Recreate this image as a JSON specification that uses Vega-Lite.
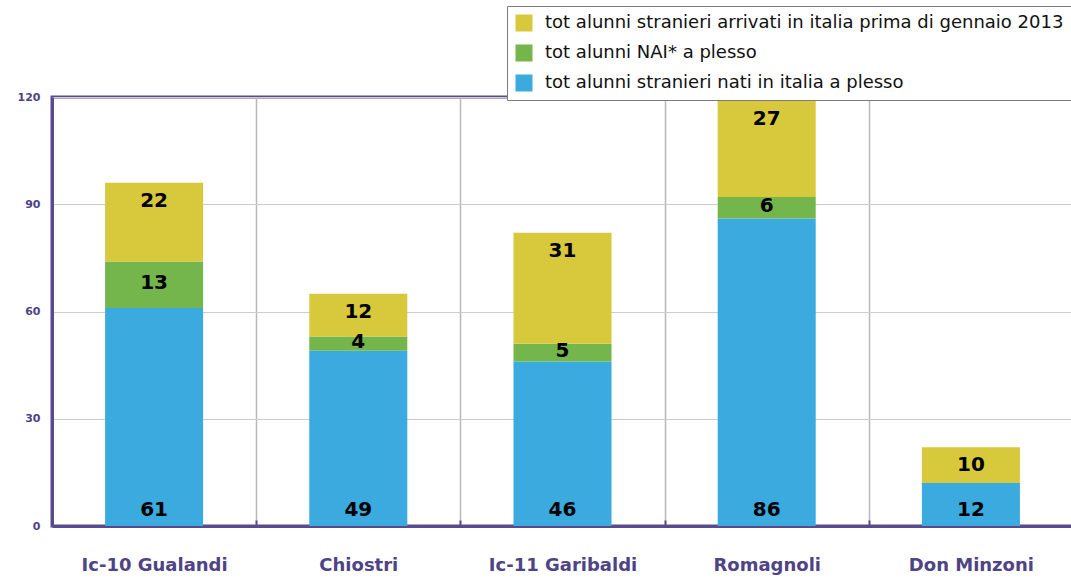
{
  "$schema": "https://vega.github.io/schema/vega-lite/v6.json",
  "width": 1021,
  "height": 429,
  "autosize": "none",
  "padding": {"left": 52, "top": 97, "right": 0, "bottom": 52},
  "background": "white",
  "config": {
    "view": {"stroke": "#584a8c", "strokeWidth": 3},
    "font": "DejaVu Sans"
  },
  "data": {
    "values": [
      {"school": "Ic-10 Gualandi", "series": "tot alunni stranieri nati in italia a plesso", "ord": 1, "value": 61},
      {"school": "Ic-10 Gualandi", "series": "tot alunni NAI* a plesso", "ord": 2, "value": 13},
      {"school": "Ic-10 Gualandi", "series": "tot alunni stranieri arrivati in italia prima di gennaio 2013", "ord": 3, "value": 22},
      {"school": "Chiostri", "series": "tot alunni stranieri nati in italia a plesso", "ord": 1, "value": 49},
      {"school": "Chiostri", "series": "tot alunni NAI* a plesso", "ord": 2, "value": 4},
      {"school": "Chiostri", "series": "tot alunni stranieri arrivati in italia prima di gennaio 2013", "ord": 3, "value": 12},
      {"school": "Ic-11 Garibaldi", "series": "tot alunni stranieri nati in italia a plesso", "ord": 1, "value": 46},
      {"school": "Ic-11 Garibaldi", "series": "tot alunni NAI* a plesso", "ord": 2, "value": 5},
      {"school": "Ic-11 Garibaldi", "series": "tot alunni stranieri arrivati in italia prima di gennaio 2013", "ord": 3, "value": 31},
      {"school": "Romagnoli", "series": "tot alunni stranieri nati in italia a plesso", "ord": 1, "value": 86},
      {"school": "Romagnoli", "series": "tot alunni NAI* a plesso", "ord": 2, "value": 6},
      {"school": "Romagnoli", "series": "tot alunni stranieri arrivati in italia prima di gennaio 2013", "ord": 3, "value": 27},
      {"school": "Don Minzoni", "series": "tot alunni stranieri nati in italia a plesso", "ord": 1, "value": 12},
      {"school": "Don Minzoni", "series": "tot alunni stranieri arrivati in italia prima di gennaio 2013", "ord": 3, "value": 10}
    ]
  },
  "transform": [
    {"stack": "value", "groupby": ["school"], "sort": [{"field": "ord", "order": "ascending"}], "as": ["y0", "y1"]},
    {"calculate": "(datum.y0 + datum.y1) / 2", "as": "ymid"}
  ],
  "encoding": {
    "x": {
      "field": "school",
      "type": "nominal",
      "sort": ["Ic-10 Gualandi", "Chiostri", "Ic-11 Garibaldi", "Romagnoli", "Don Minzoni"],
      "scale": {"paddingInner": 0, "paddingOuter": 0},
      "axis": {
        "title": null,
        "labelAngle": 0,
        "labelFontSize": 18,
        "labelFontWeight": "bold",
        "labelColor": "#4e4384",
        "labelPadding": 36,
        "tickBand": "extent",
        "grid": true,
        "gridColor": "#b8b8b8",
        "gridWidth": 1.5,
        "ticks": true,
        "tickSize": -6,
        "tickColor": "#584a8c",
        "tickWidth": 2,
        "domainColor": "#584a8c",
        "domainWidth": 3
      }
    }
  },
  "layer": [
    {
      "mark": {"type": "bar", "width": {"band": 0.48}},
      "encoding": {
        "y": {
          "field": "y0",
          "type": "quantitative",
          "scale": {"domain": [0, 120]},
          "axis": {
            "title": null,
            "values": [0, 30, 60, 90, 120],
            "ticks": false,
            "labelFontSize": 11,
            "labelFontWeight": "bold",
            "labelColor": "#4e4384",
            "labelPadding": 12,
            "gridColor": "#d3cbc9",
            "gridWidth": 1,
            "domainColor": "#584a8c",
            "domainWidth": 3
          }
        },
        "y2": {"field": "y1"},
        "color": {
          "field": "series",
          "type": "nominal",
          "scale": {
            "domain": ["tot alunni stranieri arrivati in italia prima di gennaio 2013", "tot alunni NAI* a plesso", "tot alunni stranieri nati in italia a plesso"],
            "range": ["#d8c83c", "#74b64b", "#3aaadf"]
          },
          "legend": {
            "title": null,
            "orient": "none",
            "legendX": 455,
            "legendY": -91,
            "symbolType": "square",
            "symbolSize": 289,
            "symbolStrokeWidth": 0,
            "symbolOpacity": 1,
            "labelFontSize": 18,
            "labelColor": "#111111",
            "labelOffset": 12,
            "labelLimit": 700,
            "rowPadding": 12,
            "padding": 8,
            "strokeColor": "#7a7a7a",
            "fillColor": "white"
          }
        },
        "order": {"field": "ord", "type": "quantitative"}
      }
    },
    {
      "transform": [{"filter": "datum.ord == 1"}],
      "mark": {"type": "text", "fontSize": 20, "fontWeight": "bold", "color": "black", "dy": -16},
      "encoding": {
        "y": {"field": "y0", "type": "quantitative"},
        "text": {"field": "value", "type": "quantitative"}
      }
    },
    {
      "transform": [{"filter": "datum.ord == 2"}],
      "mark": {"type": "text", "fontSize": 20, "fontWeight": "bold", "color": "black", "dy": -2},
      "encoding": {
        "y": {"field": "ymid", "type": "quantitative"},
        "text": {"field": "value", "type": "quantitative"}
      }
    },
    {
      "transform": [{"filter": "datum.ord == 3"}],
      "mark": {"type": "text", "fontSize": 20, "fontWeight": "bold", "color": "black", "dy": 18},
      "encoding": {
        "y": {"field": "y1", "type": "quantitative"},
        "text": {"field": "value", "type": "quantitative"}
      }
    }
  ]
}
